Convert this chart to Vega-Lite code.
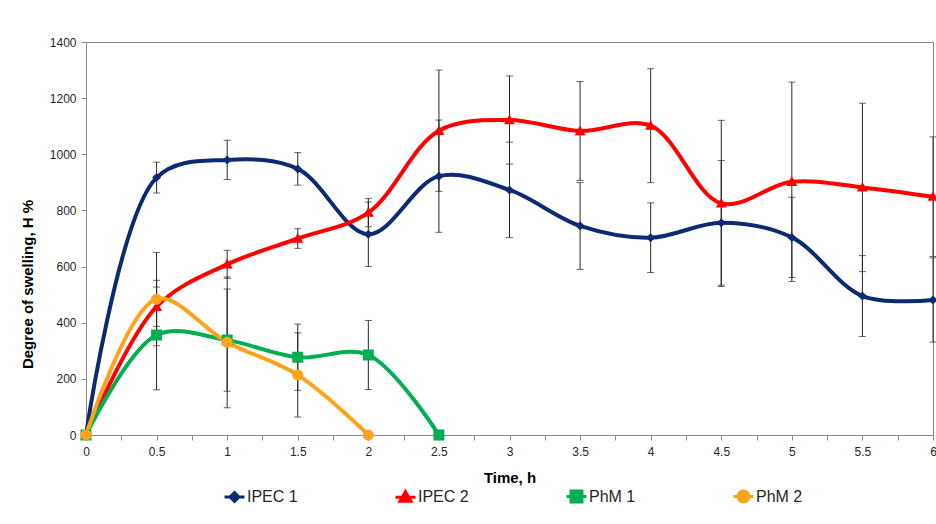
{
  "$schema": "https://vega.github.io/schema/vega-lite/v6.json",
  "autosize": "none",
  "width": 847,
  "height": 393,
  "padding": {"left": 86, "top": 42, "right": 3, "bottom": 89},
  "background": "white",
  "config": {
    "view": {"stroke": "#7f7f7f", "strokeWidth": 1},
    "font": "Liberation Sans Narrow, Liberation Sans, sans-serif",
    "axis": {
      "grid": false,
      "domainColor": "#8c8c8c",
      "tickColor": "#8c8c8c",
      "labelColor": "#262626",
      "labelFont": "Liberation Sans Narrow, Liberation Sans, sans-serif",
      "labelFontSize": 12,
      "titleFont": "Liberation Sans Narrow, Liberation Sans, sans-serif",
      "titleFontSize": 15,
      "titleFontWeight": "bold",
      "titleColor": "#000000"
    }
  },
  "data": {
    "values": [
      {"series": "IPEC 1", "t": 0, "h": 0, "err": 0},
      {"series": "IPEC 1", "t": 0.5, "h": 917, "err": 55},
      {"series": "IPEC 1", "t": 1, "h": 980, "err": 70},
      {"series": "IPEC 1", "t": 1.5, "h": 948, "err": 58},
      {"series": "IPEC 1", "t": 2, "h": 715, "err": 115},
      {"series": "IPEC 1", "t": 2.5, "h": 922, "err": 200},
      {"series": "IPEC 1", "t": 3, "h": 873, "err": 170},
      {"series": "IPEC 1", "t": 3.5, "h": 745, "err": 155},
      {"series": "IPEC 1", "t": 4, "h": 703, "err": 124},
      {"series": "IPEC 1", "t": 4.5, "h": 756, "err": 222},
      {"series": "IPEC 1", "t": 5, "h": 704, "err": 143},
      {"series": "IPEC 1", "t": 5.5, "h": 495, "err": 144},
      {"series": "IPEC 1", "t": 6, "h": 481, "err": 150},
      {"series": "IPEC 2", "t": 0, "h": 0, "err": 0},
      {"series": "IPEC 2", "t": 0.5, "h": 457, "err": 70},
      {"series": "IPEC 2", "t": 1, "h": 608, "err": 50},
      {"series": "IPEC 2", "t": 1.5, "h": 700, "err": 35},
      {"series": "IPEC 2", "t": 2, "h": 792, "err": 50},
      {"series": "IPEC 2", "t": 2.5, "h": 1084, "err": 216},
      {"series": "IPEC 2", "t": 3, "h": 1122, "err": 157},
      {"series": "IPEC 2", "t": 3.5, "h": 1083, "err": 176},
      {"series": "IPEC 2", "t": 4, "h": 1102, "err": 203},
      {"series": "IPEC 2", "t": 4.5, "h": 825, "err": 296},
      {"series": "IPEC 2", "t": 5, "h": 902, "err": 355},
      {"series": "IPEC 2", "t": 5.5, "h": 882, "err": 300},
      {"series": "IPEC 2", "t": 6, "h": 849, "err": 213},
      {"series": "PhM 1", "t": 0, "h": 0, "err": 0},
      {"series": "PhM 1", "t": 0.5, "h": 356, "err": 195},
      {"series": "PhM 1", "t": 1, "h": 338, "err": 182},
      {"series": "PhM 1", "t": 1.5, "h": 277, "err": 118},
      {"series": "PhM 1", "t": 2, "h": 285, "err": 123},
      {"series": "PhM 1", "t": 2.5, "h": 0, "err": 0},
      {"series": "PhM 2", "t": 0, "h": 0, "err": 0},
      {"series": "PhM 2", "t": 0.5, "h": 484, "err": 166},
      {"series": "PhM 2", "t": 1, "h": 330, "err": 233},
      {"series": "PhM 2", "t": 1.5, "h": 214, "err": 150},
      {"series": "PhM 2", "t": 2, "h": 0, "err": 0}
    ]
  },
  "encoding": {
    "x": {
      "field": "t",
      "type": "quantitative",
      "scale": {"domain": [0, 6], "nice": false, "zero": false},
      "axis": {
        "title": "Time, h",
        "values": [0, 0.25, 0.5, 0.75, 1, 1.25, 1.5, 1.75, 2, 2.25, 2.5, 2.75, 3, 3.25, 3.5, 3.75, 4, 4.25, 4.5, 4.75, 5, 5.25, 5.5, 5.75, 6],
        "labelExpr": "(datum.value * 2) % 1 === 0 ? format(datum.value, '~g') : ''",
        "tickSize": 5,
        "labelPadding": 6,
        "titlePadding": 13,
        "labelFlush": false
      }
    },
    "y": {
      "field": "h",
      "type": "quantitative",
      "scale": {"domain": [0, 1400], "nice": false},
      "axis": {
        "title": "Degree of swelling, H %",
        "values": [0, 200, 400, 600, 800, 1000, 1200, 1400],
        "format": "d",
        "tickSize": 5,
        "labelPadding": 5,
        "titleY": 242,
        "titlePadding": 14
      }
    }
  },
  "layer": [
    {
      "transform": [{"filter": "datum.err > 0"}],
      "mark": {"type": "errorbar", "ticks": {"size": 7, "color": "#262626", "strokeWidth": 1}, "rule": {"color": "#262626", "strokeWidth": 1}},
      "encoding": {
        "yError": {"field": "err"}
      }
    },
    {
      "mark": {"type": "line", "interpolate": "catmull-rom", "strokeWidth": 4},
      "encoding": {
        "stroke": {
          "field": "series",
          "type": "nominal",
          "scale": {"domain": ["IPEC 1", "IPEC 2", "PhM 1", "PhM 2"], "range": ["#0B2A6F", "#FF0000", "#00B050", "#FFA21C"]},
          "legend": {
            "title": null,
            "orient": "none",
            "direction": "horizontal",
            "legendX": 137,
            "legendY": 443,
            "columnPadding": 91,
            "labelFontSize": 16,
            "labelFont": "Liberation Sans Narrow, Liberation Sans, sans-serif",
            "labelColor": "#262626",
            "labelOffset": 1,
            "symbolSize": 400,
            "symbolStrokeWidth": 3,
            "encode": {
              "symbols": {
                "update": {
                  "fill": {"signal": "scale('stroke', datum.value)"},
                  "stroke": {"signal": "scale('stroke', datum.value)"},
                  "strokeWidth": {"value": 3},
                  "strokeOpacity": {"value": 1},
                  "fillOpacity": {"value": 1},
                  "opacity": {"value": 1}
                }
              }
            }
          }
        },
        "detail": {"field": "series"}
      }
    },
    {
      "mark": {"type": "point", "filled": true, "opacity": 1, "size": 400, "strokeWidth": 0},
      "encoding": {
        "fill": {
          "field": "series",
          "type": "nominal",
          "scale": {"domain": ["IPEC 1", "IPEC 2", "PhM 1", "PhM 2"], "range": ["#0B2A6F", "#FF0000", "#00B050", "#FFA21C"]},
          "legend": null
        },
        "shape": {
          "field": "series",
          "type": "nominal",
          "scale": {"domain": ["IPEC 1", "IPEC 2", "PhM 1", "PhM 2"], "range": ["M-1,0H1M0,-0.45L0.45,0L0,0.45L-0.45,0Z", "M-1,0H1M0,-0.55L0.55,0.42L-0.55,0.42Z", "M-1,0H1M-0.55,-0.55H0.55V0.55H-0.55Z", "M-1,0H1M-0.55,0A0.55,0.55,0,1,0,0.55,0A0.55,0.55,0,1,0,-0.55,0Z"]},
          "legend": null
        }
      }
    }
  ]
}
